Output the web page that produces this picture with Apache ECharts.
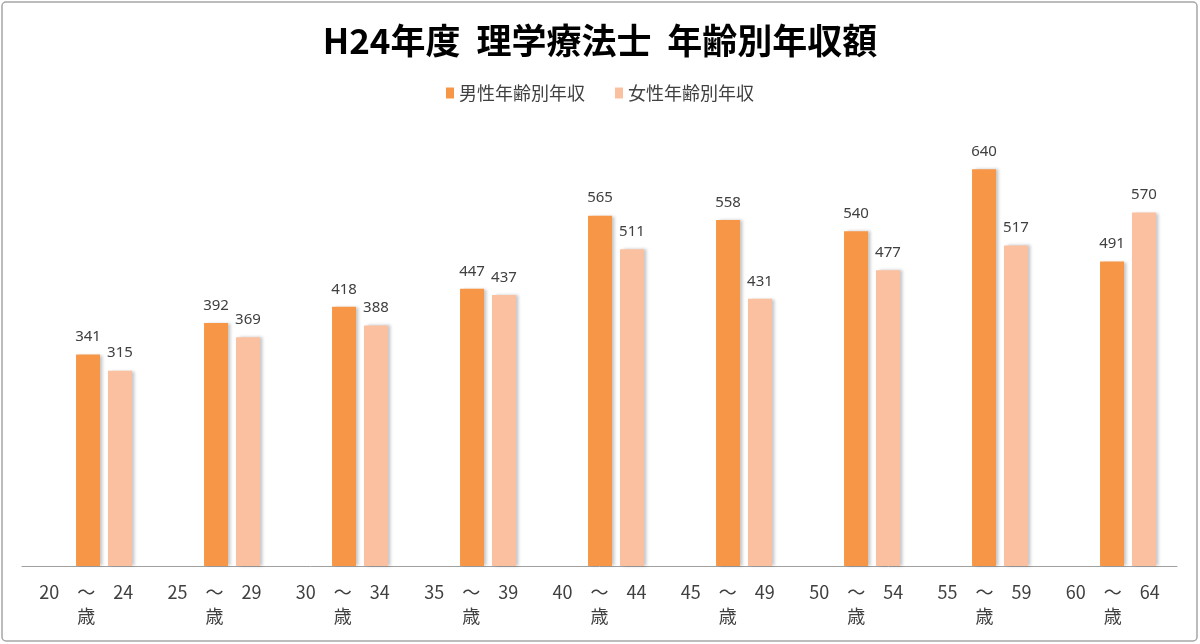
<!DOCTYPE html>
<html>
<head>
<meta charset="utf-8">
<title>H24年度 理学療法士 年齢別年収額</title>
<script src="https://cdn.jsdelivr.net/npm/echarts@6/dist/echarts.min.js"></script>
<style>
  html, body { margin: 0; padding: 0; background: #fff; }
  #main { width: 1200px; height: 644px; }
</style>
</head>
<body>
<div id="main"></div>
<script>
// 年齢区分
var categories = ['20　～　24\n歳', '25　～　29\n歳', '30　～　34\n歳', '35　～　39\n歳',
                  '40　～　44\n歳', '45　～　49\n歳', '50　～　54\n歳', '55　～　59\n歳', '60　～　64\n歳'];
// 男性年齢別年収（万円）
var maleValues = [341, 392, 418, 447, 565, 558, 540, 640, 491];
// 女性年齢別年収（万円）
var femaleValues = [315, 369, 388, 437, 511, 431, 477, 517, 570];

var seriesNames = ['男性年齢別年収', '女性年齢別年収'];
var jpFont = '"Noto Sans CJK JP", "Noto Sans", sans-serif';

var myChart = echarts.init(document.getElementById('main'));

var option = {
    backgroundColor: '#fff',
    title: {
        text: 'H24年度  理学療法士  年齢別年収額',
        left: 'center',
        top: 18,
        textStyle: {
            fontFamily: jpFont,
            fontSize: 35,
            fontWeight: 'bold',
            color: '#000'
        }
    },
    legend: {
        data: seriesNames,
        left: 'center',
        top: 79,
        icon: 'rect',
        itemWidth: 8,
        itemHeight: 11,
        itemGap: 30,
        textStyle: {
            fontFamily: jpFont,
            fontSize: 18,
            color: '#404040'
        }
    },
    // 枠線
    graphic: [{
        type: 'rect',
        shape: { x: 2, y: 2, width: 1195, height: 639, r: 4 },
        style: { fill: 'none', stroke: '#a6a6a6', lineWidth: 1.5 },
        silent: true
    }],
    grid: [
        // 棒グラフ用
        { left: 40, right: 8, top: 132, bottom: 78 },
        // 横軸（目盛ラベル・軸線）用
        { left: 22, right: 23, top: 132, bottom: 78 }
    ],
    xAxis: [
        {
            type: 'category',
            gridIndex: 0,
            data: categories,
            show: false
        },
        {
            type: 'category',
            gridIndex: 1,
            data: categories,
            axisLine: { show: true, lineStyle: { color: '#a0a0a0', width: 1 } },
            axisTick: { show: false },
            axisLabel: {
                interval: 0,
                margin: 14,
                lineHeight: 24,
                fontFamily: jpFont,
                fontSize: 18,
                color: '#404040'
            },
            splitLine: { show: false }
        }
    ],
    yAxis: [
        { type: 'value', gridIndex: 0, min: 0, max: 700, show: false },
        { type: 'value', gridIndex: 1, min: 0, max: 700, show: false }
    ],
    series: [
        {
            name: seriesNames[0],
            type: 'bar',
            xAxisIndex: 0,
            yAxisIndex: 0,
            data: maleValues,
            barWidth: 24,
            barGap: '33%',
            itemStyle: {
                color: '#f79646',
                shadowColor: 'rgba(0,0,0,0.22)',
                shadowBlur: 3,
                shadowOffsetX: 3,
                shadowOffsetY: 0
            },
            label: {
                show: true,
                position: 'top',
                distance: 10,
                fontFamily: '"Noto Sans", sans-serif',
                fontSize: 15,
                color: '#404040'
            }
        },
        {
            name: seriesNames[1],
            type: 'bar',
            xAxisIndex: 0,
            yAxisIndex: 0,
            data: femaleValues,
            barWidth: 24,
            itemStyle: {
                color: '#fac09f',
                shadowColor: 'rgba(0,0,0,0.22)',
                shadowBlur: 3,
                shadowOffsetX: 3,
                shadowOffsetY: 0
            },
            label: {
                show: true,
                position: 'top',
                distance: 10,
                fontFamily: '"Noto Sans", sans-serif',
                fontSize: 15,
                color: '#404040'
            }
        }
    ]
};

myChart.setOption(option, true);
</script>
</body>
</html>
